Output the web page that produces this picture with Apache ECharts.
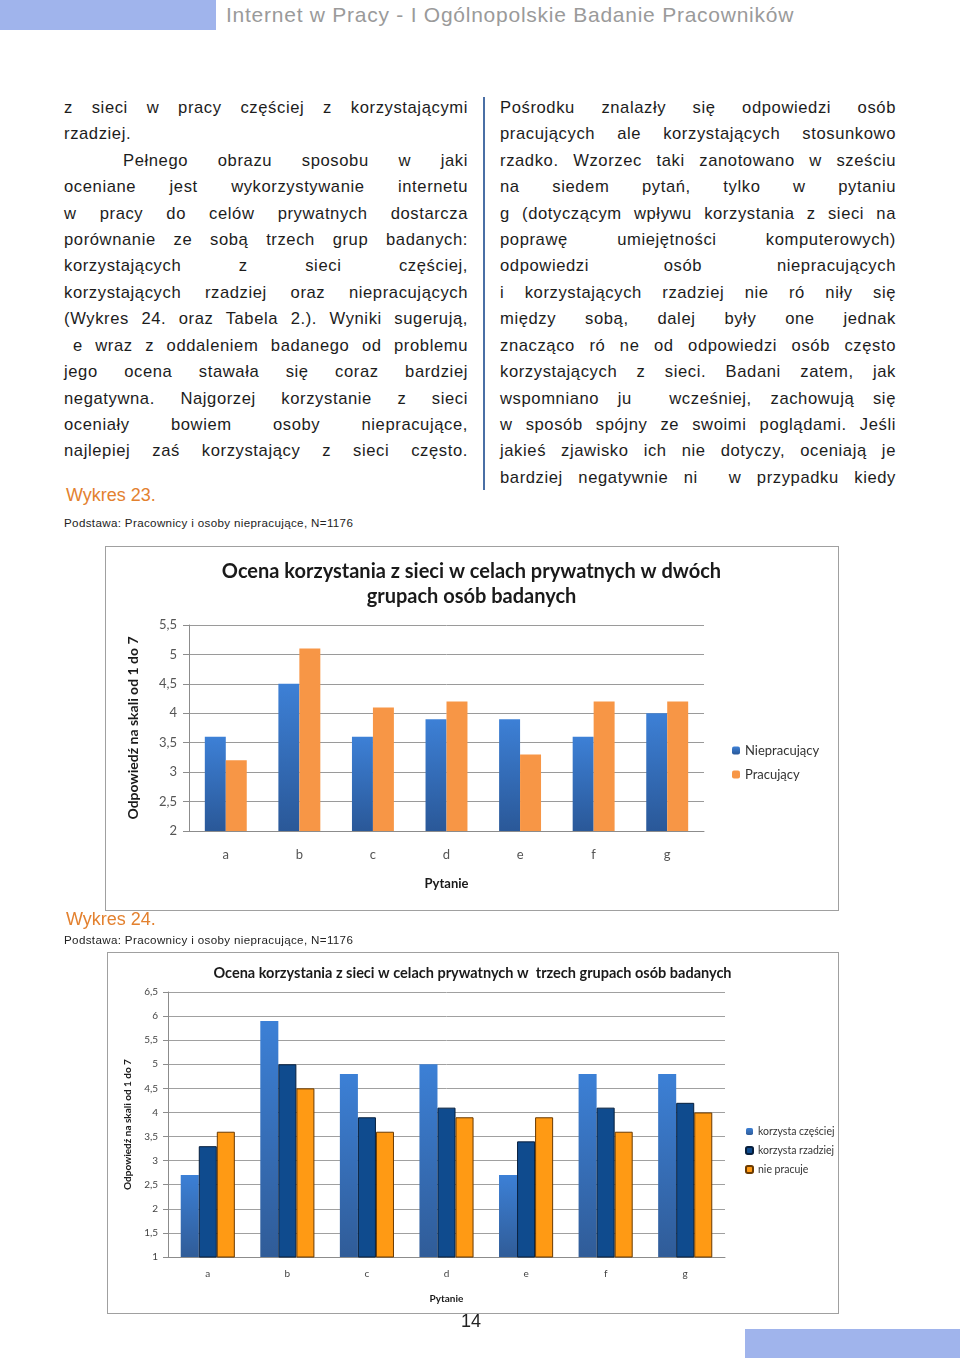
<!DOCTYPE html>
<html><head><meta charset="utf-8">
<script src="https://cdn.jsdelivr.net/npm/echarts@6/dist/echarts.min.js"></script>
<style>
html,body{margin:0;padding:0;background:#fff;}
body{width:960px;height:1358px;position:relative;overflow:hidden;font-family:"Liberation Sans",Arial,sans-serif;color:#1c1c1c;}
.abs{position:absolute;}
#hdrbar{left:0;top:0;width:216px;height:30px;background:#A0B4EC;}
#hdr{left:226px;top:3px;font-family:"Liberation Sans Narrow","Liberation Sans",sans-serif;font-size:21px;color:#9a9a9a;letter-spacing:0.75px;white-space:nowrap;}
.col{font-size:16.6px;line-height:26.45px;letter-spacing:0.6px;}
.col div{text-align:justify;text-align-last:justify;height:26.45px;overflow:visible;}
.col div.l{text-align:left;text-align-last:left;}
#left{left:64px;top:94.8px;width:404px;}
#right{left:500px;top:94.8px;width:396px;}
#vline{left:483px;top:97px;width:2px;height:393px;background:#4A6FA5;}
.wyk{font-size:18px;color:#E3812F;}
.pod{font-size:11.6px;letter-spacing:0.35px;color:#222;white-space:nowrap;}
.box{border:1.5px solid #A0A0A0;box-sizing:border-box;pointer-events:none;}
#pnum{left:461px;top:1311px;font-family:"Liberation Sans Narrow","Liberation Sans",sans-serif;font-size:18px;color:#222;}
#footbar{left:745px;top:1329px;width:215px;height:29px;background:#A0B4EC;}
</style></head>
<body>
<div id="hdrbar" class="abs"></div>
<div id="hdr" class="abs">Internet w Pracy - I Ogólnopolskie Badanie Pracowników</div>
<div id="left" class="abs col"></div>
<div id="vline" class="abs"></div>
<div id="right" class="abs col"></div>
<div class="abs wyk" style="left:66px;top:485px;">Wykres 23.</div>
<div class="abs pod" style="left:64px;top:516px;">Podstawa: Pracownicy i osoby niepracujące, N=1176</div>
<div id="c1" class="abs" style="left:105px;top:546px;width:733px;height:364px;"></div>
<div class="abs box" style="left:105px;top:546px;width:734px;height:365px;"></div>
<div class="abs wyk" style="left:66px;top:909px;">Wykres 24.</div>
<div class="abs pod" style="left:64px;top:933px;">Podstawa: Pracownicy i osoby niepracujące, N=1176</div>
<div id="c2" class="abs" style="left:107px;top:952px;width:731px;height:361px;"></div>
<div class="abs box" style="left:107px;top:952px;width:732px;height:362px;"></div>
<div id="pnum" class="abs">14</div>
<div id="footbar" class="abs"></div>
<script>
// ---- text ---- ('|' = left aligned line, '>' = indented line, '~' = small indent)
const leftLines = [
  'z sieci w pracy częściej z korzystającymi',
  '|rzadziej.',
  '>Pełnego obrazu sposobu w jaki',
  'oceniane jest wykorzystywanie internetu',
  'w pracy do celów prywatnych dostarcza',
  'porównanie ze sobą trzech grup badanych:',
  'korzystających z sieci częściej,',
  'korzystających rzadziej oraz niepracujących',
  '(Wykres 24. oraz Tabela 2.). Wyniki sugerują,',
  '~e wraz z oddaleniem badanego od problemu',
  'jego ocena stawała się coraz bardziej',
  'negatywna. Najgorzej korzystanie z sieci',
  'oceniały bowiem osoby niepracujące,',
  'najlepiej zaś korzystający z sieci często.'
];
const rightLines = [
  'Pośrodku znalazły się odpowiedzi osób',
  'pracujących ale korzystających stosunkowo',
  'rzadko. Wzorzec taki zanotowano w sześciu',
  'na siedem pytań, tylko w pytaniu',
  'g (dotyczącym wpływu korzystania z sieci na',
  'poprawę umiejętności komputerowych)',
  'odpowiedzi osób niepracujących',
  'i korzystających rzadziej nie ró\u00a0niły się',
  'między sobą, dalej były one jednak',
  'znacząco ró\u00a0ne od odpowiedzi osób często',
  'korzystających z sieci. Badani zatem, jak',
  'wspomniano ju\u00a0\u00a0wcześniej, zachowują się',
  'w sposób spójny ze swoimi poglądami. Jeśli',
  'jakieś zjawisko ich nie dotyczy, oceniają je',
  'bardziej negatywnie ni\u00a0\u00a0w przypadku kiedy'
];
function fill(id, lines){
  const el = document.getElementById(id);
  lines.forEach(t => {
    const d = document.createElement('div');
    if (t.startsWith('|')) { d.className = 'l'; t = t.slice(1); }
    else if (t.startsWith('>')) { d.style.paddingLeft = '59px'; t = t.slice(1); }
    else if (t.startsWith('~')) { d.style.paddingLeft = '9px'; t = t.slice(1); }
    d.textContent = t;
    el.appendChild(d);
  });
}
fill('left', leftLines);
fill('right', rightLines);

// ---- chart data ----
const categories = ['a','b','c','d','e','f','g'];
const niepracujacy = [3.6, 4.5, 3.6, 3.9, 3.9, 3.6, 4.0];
const pracujacy    = [3.2, 5.1, 4.1, 4.2, 3.3, 4.2, 4.2];
const korzystaCzesciej = [2.7, 5.9, 4.8, 5.0, 2.7, 4.8, 4.8];
const korzystaRzadziej = [3.3, 5.0, 3.9, 4.1, 3.4, 4.1, 4.2];
const niePracuje       = [3.6, 4.5, 3.6, 3.9, 3.9, 3.6, 4.0];

const title1 = 'Ocena korzystania z sieci w celach prywatnych w dwóch\ngrupach osób badanych';
const title2 = 'Ocena korzystania z sieci w celach prywatnych w  trzech grupach osób badanych';
const yName = 'Odpowiedź na skali od 1 do 7';
const xName = 'Pytanie';

const CF = 'Lato, "Open Sans", sans-serif';
const comma = v => String(v).replace('.', ',');
const grad = (a, b) => new echarts.graphic.LinearGradient(0, 0, 0, 1, [{offset:0,color:a},{offset:1,color:b}]);

// ---- chart 1 ----
const c1 = echarts.init(document.getElementById('c1'), null, {renderer:'canvas'});
c1.setOption({
  animation:false,
  title:{text:title1,left:'center',top:8,textStyle:{fontFamily:CF,fontWeight:'bold',fontSize:20,color:'#1a1a1a',lineHeight:25}},
  grid:{left:84,top:79,width:515,height:206},
  legend:{orient:'vertical',left:622,top:193,itemWidth:8,itemHeight:8,itemGap:11,
    textStyle:{fontFamily:CF,fontSize:13,color:'#333'},
    data:['Niepracujący','Pracujący']},
  xAxis:{type:'category',data:categories,name:xName,nameLocation:'middle',nameGap:46,
    nameTextStyle:{fontFamily:CF,fontWeight:'bold',fontSize:13,color:'#1a1a1a'},
    axisLine:{lineStyle:{color:'#8c8c8c'}},axisTick:{length:6,lineStyle:{color:'#8c8c8c'}},
    axisLabel:{margin:17,fontFamily:CF,fontSize:13,color:'#555'}},
  yAxis:{type:'value',min:2,max:5.5,interval:0.5,name:yName,nameLocation:'middle',nameGap:49,
    nameTextStyle:{fontFamily:CF,fontWeight:'bold',fontSize:14,color:'#1a1a1a'},
    axisLine:{show:true,lineStyle:{color:'#8c8c8c'}},axisTick:{show:true,length:6,lineStyle:{color:'#8c8c8c'}},
    axisLabel:{margin:12,fontFamily:CF,fontSize:13,color:'#555',formatter:comma},
    splitLine:{lineStyle:{color:'#9a9a9a'}}},
  series:[
    {name:'Niepracujący',type:'bar',data:niepracujacy,barGap:'0%',barCategoryGap:'43%',
      itemStyle:{color:grad('#3D80D6','#2A5898')}},
    {name:'Pracujący',type:'bar',data:pracujacy,
      itemStyle:{color:'#F79646'}}
  ]
});

// ---- chart 2 ----
const c2 = echarts.init(document.getElementById('c2'), null, {renderer:'canvas'});
c2.setOption({
  animation:false,
  title:{text:title2,left:'center',top:9,textStyle:{fontFamily:CF,fontWeight:'bold',fontSize:14.5,color:'#1a1a1a'}},
  grid:{left:61,top:40,width:557,height:265},
  legend:{orient:'vertical',left:633,top:169,itemWidth:7,itemHeight:7,itemGap:8,
    textStyle:{fontFamily:CF,fontSize:10.5,color:'#333'},
    data:['korzysta częściej','korzysta rzadziej','nie pracuje']},
  xAxis:{type:'category',data:categories,name:xName,nameLocation:'middle',nameGap:37,
    nameTextStyle:{fontFamily:CF,fontWeight:'bold',fontSize:10,color:'#1a1a1a'},
    axisLine:{lineStyle:{color:'#8c8c8c'}},axisTick:{length:5,lineStyle:{color:'#8c8c8c'}},
    axisLabel:{margin:12,fontFamily:CF,fontSize:10,color:'#444'}},
  yAxis:{type:'value',min:1,max:6.5,interval:0.5,name:yName,nameLocation:'middle',nameGap:34,
    nameTextStyle:{fontFamily:CF,fontWeight:'bold',fontSize:10,color:'#1a1a1a'},
    axisLine:{show:true,lineStyle:{color:'#8c8c8c'}},axisTick:{show:true,length:5,lineStyle:{color:'#8c8c8c'}},
    axisLabel:{margin:10,fontFamily:CF,fontSize:10,color:'#444',formatter:comma},
    splitLine:{lineStyle:{color:'#a0a0a0'}}},
  series:[
    {name:'korzysta częściej',type:'bar',data:korzystaCzesciej,barGap:'0%',barCategoryGap:'32%',
      itemStyle:{color:grad('#3C80D6','#305C98')}},
    {name:'korzysta rzadziej',type:'bar',data:korzystaRzadziej,
      itemStyle:{color:'#0F4B8E',borderColor:'#071f3d',borderWidth:1}},
    {name:'nie pracuje',type:'bar',data:niePracuje,
      itemStyle:{color:'#FF9A14',borderColor:'#6b3a00',borderWidth:1}}
  ]
});
</script>
</body></html>
